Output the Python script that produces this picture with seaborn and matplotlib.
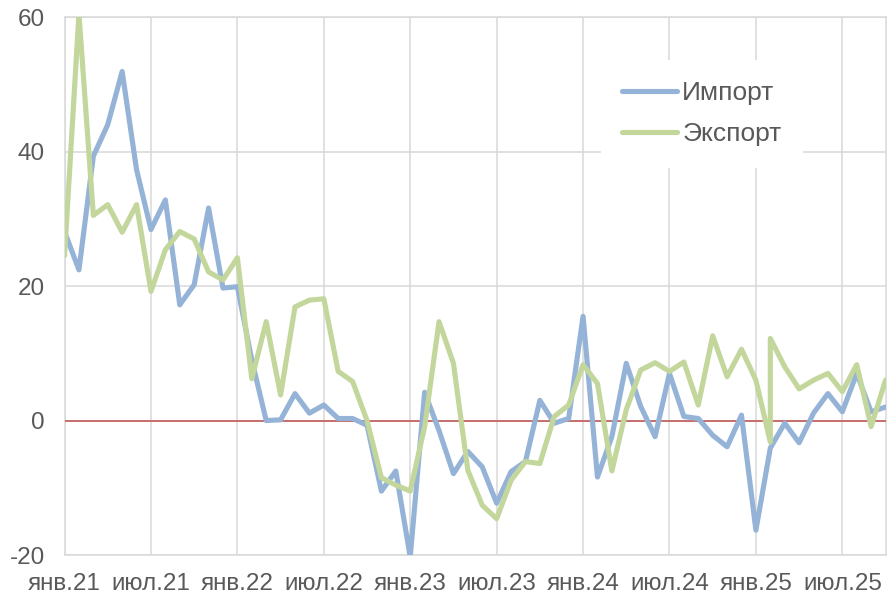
import pandas as pd
import seaborn as sns
import matplotlib.pyplot as plt

# monthly series, янв.21 .. окт.25
months = pd.period_range('2021-01', '2025-10', freq='M')

import_vals = [28.1, 22.4, 39.3, 44.0, 51.9, 37.3, 28.4, 32.8, 17.2, 20.2,
               31.6, 19.7, 19.9, 9.0, 0.0, 0.1, 4.0, 1.1, 2.3, 0.3,
               0.3, -0.7, -10.5, -7.5, -20.3, 4.2, -1.5, -7.9, -4.6, -6.9,
               -12.3, -7.6, -6.1, 3.0, -0.4, 0.3, 15.5, -8.4, -2.4, 8.5,
               2.1, -2.4, 7.0, 0.6, 0.3, -2.2, -3.9, 0.8, -16.3, -4.1,
               -0.4, -3.3, 1.1, 4.0, 1.3, 7.0, 1.3, 2.0]

# export has two readings for фев.25 (dip and jump drawn at the same month)
export_months = list(months[:49]) + [months[49]] + list(months[49:])
export_vals = [24.5, 60.5, 30.5, 32.1, 28.0, 32.1, 19.2, 25.4, 28.1, 27.0,
               22.1, 20.9, 24.2, 6.2, 14.7, 3.8, 16.9, 17.9, 18.1, 7.3,
               5.8, 0.0, -8.5, -9.6, -10.5, -0.9, 14.7, 8.5, -7.4, -12.6,
               -14.6, -8.9, -6.1, -6.4, 0.6, 2.3, 8.3, 5.5, -7.5, 1.6,
               7.5, 8.6, 7.3, 8.7, 2.3, 12.6, 6.5, 10.6, 6.0,
               -3.2, 12.2, 8.0, 4.7, 6.0, 7.0, 4.3, 8.3, -0.9, 6.0]

tick_labels = ['янв.21', 'июл.21', 'янв.22', 'июл.22', 'янв.23',
               'июл.23', 'янв.24', 'июл.24', 'янв.25', 'июл.25']
y_ticks = [-20, 0, 20, 40, 60]

start = months[0]
df_imp = pd.DataFrame({'x': [(m - start).n for m in months], 'y': import_vals})
df_exp = pd.DataFrame({'x': [(m - start).n for m in export_months], 'y': export_vals})

sns.set_style('white')
plt.rcParams['font.family'] = ['Liberation Sans', 'DejaVu Sans']

fig = plt.figure(figsize=(8.89, 5.95), dpi=100)
ax = fig.add_axes([0.0726, 0.0672, 0.9235, 0.9042])

grid_c = '#D9D9D9'
txt_c = '#595959'
lw = 3.7

sns.lineplot(data=df_imp, x='x', y='y', ax=ax, estimator=None, sort=False,
             color='#95B3D7', linewidth=lw, label='Импорт', zorder=4)
sns.lineplot(data=df_exp, x='x', y='y', ax=ax, estimator=None, sort=False,
             color='#C3D69B', linewidth=lw, label='Экспорт', zorder=5)

ax.set_xlim(0, len(months) - 1)
ax.set_ylim(-20, 60)
ax.set_xticks(range(0, 6 * len(tick_labels), 6))
ax.set_xticklabels(tick_labels)
ax.set_yticks(y_ticks)
ax.set_yticklabels([str(v) for v in y_ticks])
ax.set_xlabel('')
ax.set_ylabel('')

ax.grid(True, color=grid_c, linewidth=1.1, zorder=0)
ax.axhline(0, color='#C0504D', linewidth=1.1, zorder=3)
for s in ax.spines.values():
    s.set_color(grid_c)
    s.set_linewidth(1.1)

ax.tick_params(axis='both', length=0, labelsize=17.5, labelcolor=txt_c)
ax.tick_params(axis='x', pad=13)
ax.tick_params(axis='y', pad=14)

leg = ax.legend(loc='center', bbox_to_anchor=(0.776, 0.820), frameon=True,
                fontsize=19, handlelength=2.1, handletextpad=0.2,
                labelspacing=0.65, borderpad=0.8)
leg.get_frame().set_facecolor('white')
leg.get_frame().set_edgecolor('none')
leg.get_frame().set_alpha(1)
for t in leg.get_texts():
    t.set_color(txt_c)
for h in leg.get_lines():
    h.set_linewidth(lw)
    h.set_solid_capstyle('round')

fig.savefig('out.png', dpi=100)
